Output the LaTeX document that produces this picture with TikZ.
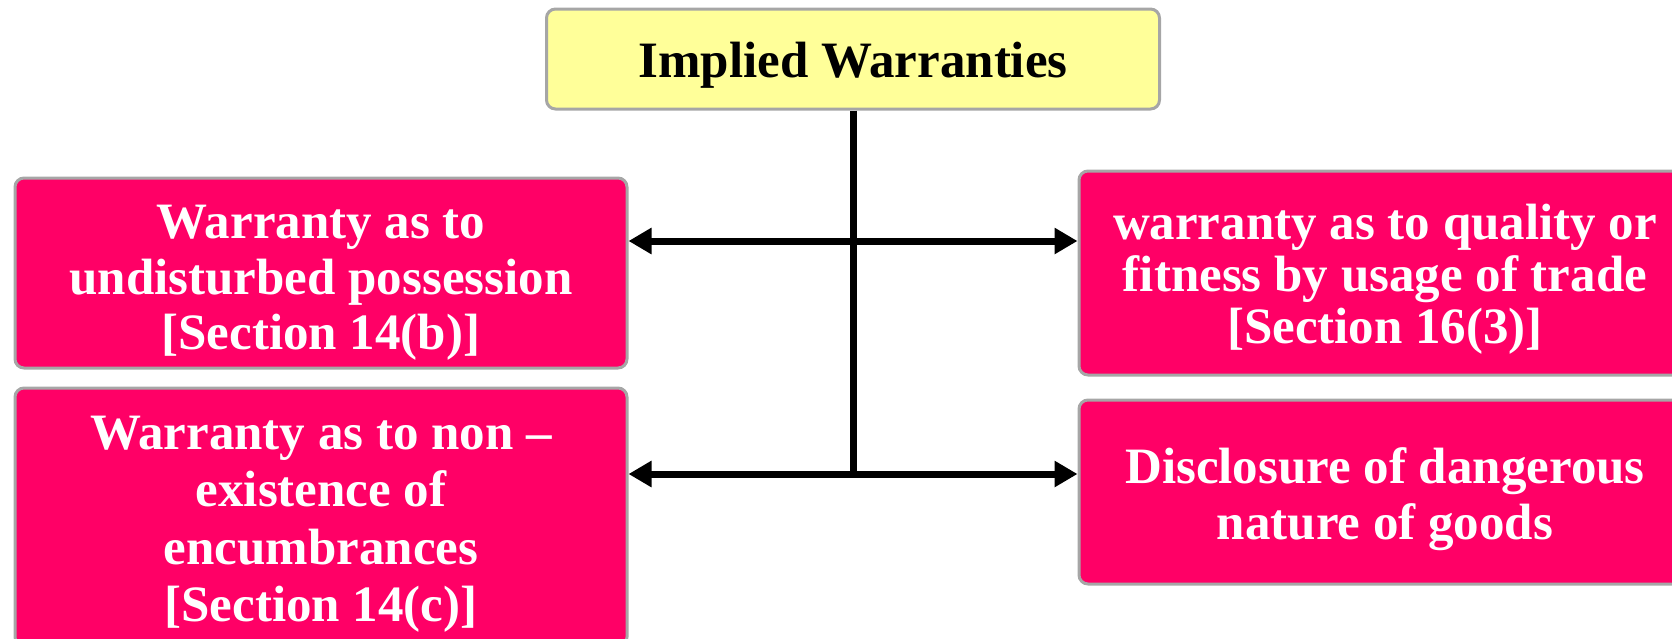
\documentclass[tikz,border=0pt]{standalone}
\usepackage{fontspec}
\setmainfont{Liberation Serif}
\usetikzlibrary{arrows.meta}

\definecolor{boxpink}{HTML}{FF0066}
\definecolor{boxyellow}{HTML}{FFFF99}
\definecolor{boxedge}{HTML}{A6A6A6}

% invisible strut that lowers a centred text block a little
\newcommand{\toplift}[1]{\rule{0pt}{#1pt}}

\tikzset{
  card/.style={draw=boxedge, line width=3pt, rounded corners=9pt,
    inner sep=0pt, align=center, font=\bfseries\fontsize{51}{56}\selectfont},
  headcard/.style={card, fill=boxyellow, text=black},
  itemcard/.style={card, fill=boxpink, text=white, minimum width=612pt},
  conn/.style={draw=black, line width=7pt},
  twotip/.style={{Triangle[length=23pt,width=25pt]}-{Triangle[length=23pt,width=25pt]}}
}

\begin{document}
\begin{tikzpicture}[x=1pt,y=-1pt]
\useasboundingbox (0,0) rectangle (1672,638);
\clip (0,0) rectangle (1672,638);

% heading
\node[headcard, minimum width=613pt, minimum height=100pt] (top) at (853,59)
  {\toplift{48}Implied Warranties};

% left column
\node[itemcard, minimum height=190pt, font=\bfseries\fontsize{51}{55.5}\selectfont] (lb1) at (321,273)
  {\toplift{53}Warranty as to\\undisturbed possession\\{}[Section 14(b)]};
\node[itemcard, minimum height=258pt, font=\bfseries\fontsize{51}{57.5}\selectfont] (lb2) at (321,517)
  {\toplift{48}Warranty as to non --\\existence of\\encumbrances\\{}[Section 14(c)]};

% right column
\node[itemcard, minimum height=204pt, font=\bfseries\fontsize{51}{52}\selectfont] (rb1) at (1385,273)
  {\toplift{48}warranty as to quality or\\fitness by usage of trade\\{}[Section 16(3)]};
\node[itemcard, minimum height=184pt] (rb2) at (1385,492)
  {\toplift{51}Disclosure of dangerous\\nature of goods};

% junction points on the trunk
\coordinate (j1) at (853,241);
\coordinate (j2) at (853,474);
\coordinate (jend) at (853,477);

% trunk and branches
\draw[conn] (top.south) -- (jend);
\draw[conn, twotip] (lb1.east |- j1) -- (rb1.west |- j1);
\draw[conn, twotip] (lb2.east |- j2) -- (rb2.west |- j2);
\end{tikzpicture}
\end{document}
